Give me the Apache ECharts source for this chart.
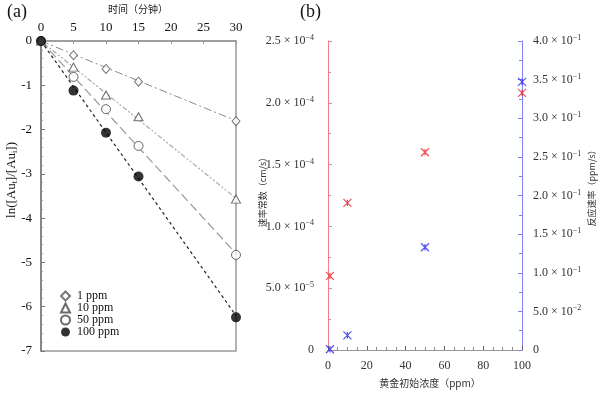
<!DOCTYPE html>
<html><head><meta charset="utf-8">
<script src="https://cdn.jsdelivr.net/npm/echarts@6/dist/echarts.min.js"></script>
<style>html,body{margin:0;padding:0;background:#fff}#c{width:600px;height:393px}</style>
</head><body><div id="c"></div>
<script>
// Panel (a): ln([Au]t/[Au]i) vs time (min)
const timeMin = [0, 5, 10, 15, 30];
const ppm1   = [0, -0.32, -0.63, -0.92, -1.81];
const ppm10  = [0, -0.59, -1.22, -1.71, -3.57];
const ppm50  = [0, -0.81, -1.54, -2.37, -4.83];
const ppm100 = [0, -1.12, -2.07, -3.06, -6.24];
// fitted trend lines: [start, end] y at x = 0 and 30
const fitX = [0, 30];
const fit1   = [0, -1.80];
const fit10  = [0, -3.55];
const fit50  = [0, -4.80];
const fit100 = [0, -6.20];
const legendNames = ['1 ppm', '10 ppm', '50 ppm', '100 ppm'];

// Panel (b): vs initial gold concentration (ppm)
const conc = [1, 10, 50, 100];
const rateConst = [6.0e-5, 1.19e-4, 1.6e-4, 2.08e-4];   // cm/s, left axis
const reactRate = [0.001, 0.019, 0.133, 0.347];         // ppm/s, right axis

const pair = (xs, ys) => xs.map((x, i) => [x, ys[i]]);
const serif = '"Liberation Serif","DejaVu Serif",serif';
const cjk = '"Noto Sans CJK SC","Noto Sans",sans-serif';

function sci(v) {
  if (Math.abs(v) < 1e-12) return '0';
  let e = Math.floor(Math.log10(v) + 1e-9);
  let m = v / Math.pow(10, e);
  if (m >= 9.995) { m /= 10; e += 1; }
  return m.toFixed(1) + ' × 10{s|−' + (-e) + '}';
}
const supRich = { s: { fontSize: 8, fontFamily: serif, color: '#333', verticalAlign: 'top', padding: [0, 0, 6, 0] } };

const asterisk = 'path://M0,0L10,10M10,0L0,10M5,1L5,9';

const chart = echarts.init(document.getElementById('c'));
chart.setOption({
  animation: false,
  backgroundColor: '#fff',
  grid: [
    { left: 41, right: 364, top: 41, bottom: 42, show: true, borderColor: '#999', borderWidth: 1.5 },
    { left: 328, right: 78, top: 41, bottom: 43 }
  ],
  xAxis: [
    { gridIndex: 0, type: 'value', position: 'top', min: 0, max: 30, interval: 5,
      axisLine: { show: true, lineStyle: { color: '#999', width: 1.5 } },
      axisTick: { show: true, inside: true, length: 3, lineStyle: { color: '#999' } },
      axisLabel: { fontFamily: serif, fontSize: 13, color: '#111', margin: 7 },
      splitLine: { show: false } },
    { gridIndex: 1, type: 'value', min: 0, max: 100, interval: 20,
      axisLine: { show: true, onZero: false, lineStyle: { color: '#666' } },
      axisTick: { show: true, inside: true, length: 4, lineStyle: { color: '#666' } },
      minorTick: { show: true, splitNumber: 4, length: 3, lineStyle: { color: '#888' } },
      axisLabel: { fontFamily: serif, fontSize: 12, color: '#333', margin: 10 },
      splitLine: { show: false } },
    { gridIndex: 1, type: 'value', position: 'top', min: 0, max: 100,
      axisLine: { show: true, lineStyle: { color: '#999' } },
      axisTick: { show: false }, axisLabel: { show: false }, splitLine: { show: false } }
  ],
  yAxis: [
    { gridIndex: 0, type: 'value', min: -7, max: 0, interval: 1,
      axisLine: { show: true, onZero: false, lineStyle: { color: '#777', width: 1.5 } },
      axisTick: { show: true, inside: true, length: 4, lineStyle: { color: '#777' } },
      minorTick: { show: true, splitNumber: 5, length: 2, lineStyle: { color: '#999' } },
      axisLabel: { fontFamily: serif, fontSize: 13, color: '#111', margin: 9 },
      splitLine: { show: false } },
    { gridIndex: 1, type: 'value', position: 'left', min: 0, max: 2.5e-4, interval: 5e-5,
      axisLine: { show: true, onZero: false, lineStyle: { color: '#f08080' } },
      axisTick: { show: true, inside: true, length: 4, lineStyle: { color: '#f08080' } },
      minorTick: { show: true, splitNumber: 2, length: 3, lineStyle: { color: '#f08080' } },
      axisLabel: { fontFamily: serif, fontSize: 12, color: '#333', margin: 14, formatter: sci, rich: supRich },
      splitLine: { show: false } },
    { gridIndex: 1, type: 'value', position: 'right', min: 0, max: 0.4, interval: 0.05,
      axisLine: { show: true, onZero: false, lineStyle: { color: '#8080f0' } },
      axisTick: { show: true, inside: true, length: 4, lineStyle: { color: '#8080f0' } },
      minorTick: { show: true, splitNumber: 2, length: 3, lineStyle: { color: '#8080f0' } },
      axisLabel: { fontFamily: serif, fontSize: 12, color: '#333', margin: 11, formatter: sci, rich: supRich },
      splitLine: { show: false } }
  ],
  legend: {
    data: legendNames, orient: 'vertical', left: 60, top: 290, itemGap: 0, padding: 0,
    itemWidth: 9, itemHeight: 9,
    textStyle: { fontFamily: serif, fontSize: 12, lineHeight: 11, color: '#111', padding: [0, 0, 0, 2] }
  },
  series: [
    { type: 'line', xAxisIndex: 0, yAxisIndex: 0, data: pair(fitX, fit1), symbol: 'none', z: 1,
      lineStyle: { color: '#888', width: 1, type: [8, 3, 2, 3] } },
    { type: 'line', xAxisIndex: 0, yAxisIndex: 0, data: pair(fitX, fit10), symbol: 'none', z: 1,
      lineStyle: { color: '#aaa', width: 1.2, type: [5, 2, 2, 2, 2, 2] } },
    { type: 'line', xAxisIndex: 0, yAxisIndex: 0, data: pair(fitX, fit50), symbol: 'none', z: 1,
      lineStyle: { color: '#999', width: 1.2, type: [9, 4] } },
    { type: 'line', xAxisIndex: 0, yAxisIndex: 0, data: pair(fitX, fit100), symbol: 'none', z: 1,
      lineStyle: { color: '#222', width: 1.2, type: [3, 3] } },
    { name: legendNames[0], type: 'scatter', xAxisIndex: 0, yAxisIndex: 0, data: pair(timeMin, ppm1),
      symbol: 'diamond', symbolSize: [8, 9], z: 3,
      itemStyle: { color: '#fff', borderColor: '#555', borderWidth: 1 } },
    { name: legendNames[1], type: 'scatter', xAxisIndex: 0, yAxisIndex: 0, data: pair(timeMin, ppm10),
      symbol: 'triangle', symbolSize: [9, 8], z: 3,
      itemStyle: { color: '#fff', borderColor: '#444', borderWidth: 1 } },
    { name: legendNames[2], type: 'scatter', xAxisIndex: 0, yAxisIndex: 0, data: pair(timeMin, ppm50),
      symbol: 'circle', symbolSize: 9, z: 3,
      itemStyle: { color: '#fff', borderColor: '#444', borderWidth: 1 } },
    { name: legendNames[3], type: 'scatter', xAxisIndex: 0, yAxisIndex: 0, data: pair(timeMin, ppm100),
      symbol: 'circle', symbolSize: 10, z: 4,
      itemStyle: { color: '#000', borderColor: '#000', borderWidth: 0 } },
    { type: 'scatter', xAxisIndex: 1, yAxisIndex: 1, data: pair(conc, rateConst),
      symbol: asterisk, symbolSize: 8, z: 5,
      itemStyle: { color: 'none', borderColor: '#e8242c', borderWidth: 1.2 } },
    { type: 'scatter', xAxisIndex: 1, yAxisIndex: 2, data: pair(conc, reactRate),
      symbol: asterisk, symbolSize: 8, z: 5,
      itemStyle: { color: 'none', borderColor: '#2828e8', borderWidth: 1.2 } }
  ],
  graphic: [
    { type: 'text', left: 7, top: 3, style: { text: '(a)', font: '18px ' + serif, fill: '#111' } },
    { type: 'text', left: 300, top: 3, style: { text: '(b)', font: '18px ' + serif, fill: '#111' } },
    { type: 'text', x: 138, y: 9, style: { text: '时间（分钟）', font: '10px ' + cjk, fill: '#222', align: 'center', verticalAlign: 'middle' } },
    { type: 'text', x: 12, y: 180, rotation: Math.PI / 2,
      style: { text: 'ln([Au{sub|t}]/[Au{sub|i}])', font: '13px ' + serif, fill: '#111', align: 'center', verticalAlign: 'middle',
        rich: { sub: { fontSize: 8, fontFamily: serif, fill: '#111', verticalAlign: 'bottom', padding: [5, 0, 0, 0] } } } },
    { type: 'text', x: 263, y: 190, rotation: Math.PI / 2,
      style: { text: '速率常数（cm/s）', font: '9px ' + cjk, fill: '#333', align: 'center', verticalAlign: 'middle' } },
    { type: 'text', x: 592, y: 186, rotation: Math.PI / 2,
      style: { text: '反应速率（ppm/s）', font: '9px ' + cjk, fill: '#333', align: 'center', verticalAlign: 'middle' } },
    { type: 'text', x: 430, y: 383, style: { text: '黄金初始浓度（ppm）', font: '10px ' + cjk, fill: '#333', align: 'center', verticalAlign: 'middle' } }
  ]
});
</script>
</body></html>
